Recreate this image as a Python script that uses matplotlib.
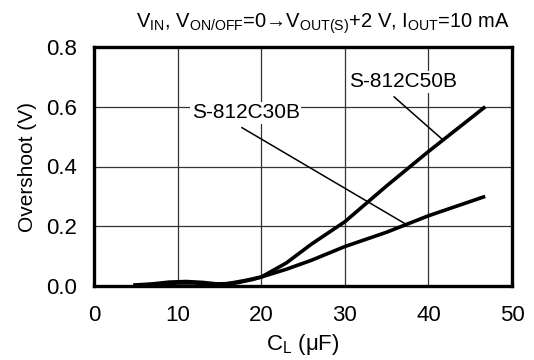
import matplotlib
matplotlib.use('Agg')
import matplotlib.pyplot as plt

plt.rcParams['font.family'] = ['Liberation Sans', 'DejaVu Sans']
plt.rcParams['mathtext.fontset'] = 'custom'
plt.rcParams['mathtext.rm'] = 'Liberation Sans'
plt.rcParams['mathtext.default'] = 'regular'

# data
cl_50b = [4.7, 7, 9, 11, 13, 15, 17, 19, 20, 23, 26, 30, 35, 40, 46.8]
os_50b = [0.003, 0.007, 0.013, 0.015, 0.012, 0.006, 0.01, 0.022, 0.03, 0.077, 0.14, 0.215, 0.335, 0.45, 0.6]
cl_30b = [4.7, 8, 10, 12, 14, 16, 18, 20, 23, 26, 30, 35, 40, 46.8]
os_30b = [0.002, 0.006, 0.01, 0.01, 0.006, 0.008, 0.018, 0.03, 0.056, 0.086, 0.132, 0.18, 0.235, 0.3]

x_ticks = [0, 10, 20, 30, 40, 50]
y_ticks = [0.0, 0.2, 0.4, 0.6, 0.8]

fig = plt.figure(figsize=(5.34, 3.6), dpi=100)
ax = fig.add_axes([94/534, 1 - 286/360, 418/534, 239/360])

ax.plot(cl_50b, os_50b, color='black', lw=2.6, solid_capstyle='butt', zorder=3)
ax.plot(cl_30b, os_30b, color='black', lw=2.6, solid_capstyle='butt', zorder=3)

ax.set_xlim(0, 50)
ax.set_ylim(0, 0.8)
ax.set_xticks(x_ticks)
ax.set_yticks(y_ticks)
ax.set_yticklabels([f'{v:.1f}' for v in y_ticks])
ax.grid(True, color='#333333', lw=0.9)
ax.set_axisbelow(True)
ax.tick_params(length=0, labelsize=16)
ax.tick_params(axis='x', pad=14)
ax.tick_params(axis='y', pad=12)
for s in ax.spines.values():
    s.set_linewidth(2.4)

# labels with leader lines
ax.plot([17.7, 37.3], [0.53, 0.207], color='black', lw=1.1, zorder=2)
ax.text(11.7, 0.58, 'S-812C30B', fontsize=15, va='center', ha='left', zorder=4,
        bbox=dict(facecolor='white', edgecolor='none', pad=1))
ax.plot([35.9, 41.7], [0.633, 0.49], color='black', lw=1.1, zorder=2)
ax.text(30.5, 0.683, 'S-812C50B', fontsize=15, va='center', ha='left', zorder=4,
        bbox=dict(facecolor='white', edgecolor='none', pad=1))

ax.set_xlabel('C$_L$ ($\\mu$F)', fontsize=16, labelpad=4)
ax.set_ylabel('Overshoot (V)', fontsize=15, labelpad=7)
ax.text(0.548, 1.045, 'V$_{IN}$, V$_{ON/OFF}$=0\u2192V$_{OUT(S)}$+2 V, I$_{OUT}$=10 mA',
        transform=ax.transAxes, ha='center', va='bottom', fontsize=14.5)

fig.savefig('out.png', dpi=100)
